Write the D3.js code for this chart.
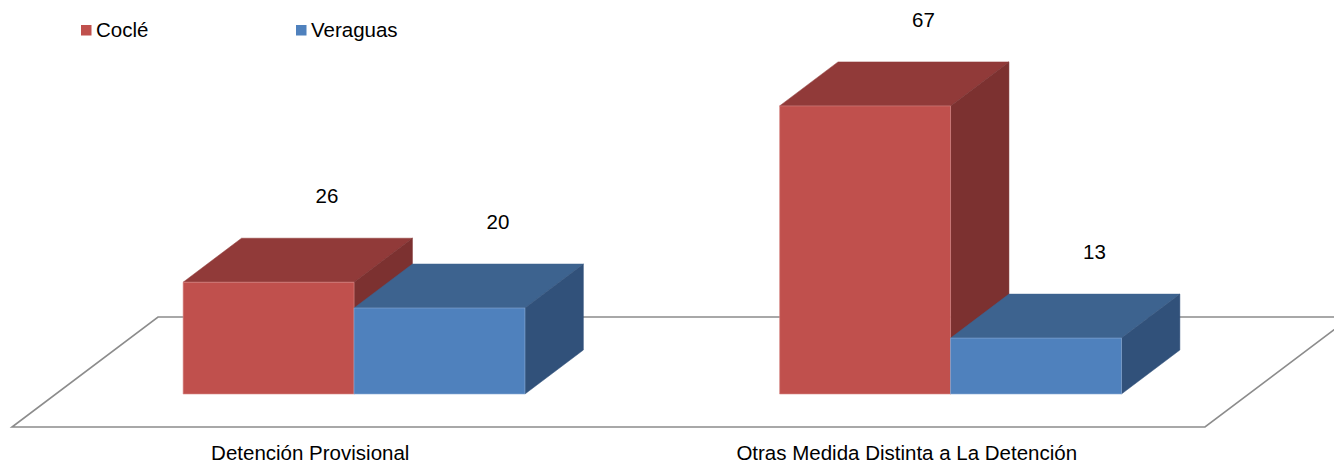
<!DOCTYPE html>
<html>
<head>
<meta charset="utf-8">
<script src="https://cdn.jsdelivr.net/npm/d3@7"></script>
<style>
  body { margin: 0; background: #fff; }
  svg { display: block; font-family: "Liberation Sans", Arial, sans-serif; }
</style>
</head>
<body>
<div id="chart"></div>
<script>
const categories = ["Detención Provisional", "Otras Medida Distinta a La Detención"];
const seriesNames = ["Coclé", "Veraguas"];
const cocleValues = [26, 67];
const veraguasValues = [20, 13];

const width = 1334, height = 463;

const colors = {
  "Coclé":    { front: "#c0504d", top: "#913a39", side: "#7c3130", edge: "#d98a88" },
  "Veraguas": { front: "#4f81bd", top: "#3d638f", side: "#31517a", edge: "#8bacd6" }
};

// floor geometry (front edge + depth vector)
const floorY = 427;
const depthVec = [146, -110];

const svg = d3.select("#chart")
  .append("svg")
    .attr("width", width)
    .attr("height", height)
    .attr("viewBox", `0 0 ${width} ${height}`);

const x0 = d3.scaleBand()
  .domain(categories)
  .range([12, 1205]);

const x1 = d3.scaleBand()
  .domain(seriesNames)
  .range([0, x0.bandwidth()])
  .paddingOuter(0.745);

const yScale = d3.scaleLinear()
  .domain([0, 70])
  .range([0, 301]);

// depth position of the bars on the floor (0 = front, 1 = back)
const depthScale = d3.scaleLinear().domain([0, 1]).range([0.3, 0.7]);

const project = (x, d, h) => [x + depthVec[0] * d, floorY + depthVec[1] * d - h];

// floor outline
const floorPts = [
  project(12, 0, 0), project(1205, 0, 0), project(1205, 1, 0), project(12, 1, 0)
];
svg.append("polygon")
  .attr("points", floorPts.map(p => p.join(",")).join(" "))
  .attr("fill", "none")
  .attr("stroke", "#8c8c8c")
  .attr("stroke-width", 1.6);

const data = [];
categories.forEach((c, i) => {
  data.push({ category: c, series: "Coclé", value: cocleValues[i] });
  data.push({ category: c, series: "Veraguas", value: veraguasValues[i] });
});

const dF = depthScale(0), dB = depthScale(1);
const poly = pts => pts.map(p => p.join(",")).join(" ");

const bars = svg.append("g")
  .selectAll("g.bar")
  .data(data)
  .join("g")
    .attr("class", "bar");

bars.each(function(d) {
  const g = d3.select(this);
  const xl = x0(d.category) + x1(d.series);
  const xr = xl + x1.bandwidth();
  const h = yScale(d.value);
  const c = colors[d.series];

  // top face
  g.append("polygon")
    .attr("points", poly([project(xl, dF, h), project(xr, dF, h), project(xr, dB, h), project(xl, dB, h)]))
    .attr("fill", c.top)
    .attr("stroke", c.top)
    .attr("stroke-width", 0.5);
  // side face
  g.append("polygon")
    .attr("points", poly([project(xr, dF, 0), project(xr, dF, h), project(xr, dB, h), project(xr, dB, 0)]))
    .attr("fill", c.side)
    .attr("stroke", c.side)
    .attr("stroke-width", 0.5);
  // front face
  g.append("polygon")
    .attr("points", poly([project(xl, dF, 0), project(xr, dF, 0), project(xr, dF, h), project(xl, dF, h)]))
    .attr("fill", c.front)
    .attr("stroke", c.edge)
    .attr("stroke-width", 0.6);
});

// value labels
bars.append("text")
  .text(d => d.value)
  .attr("x", d => project(x0(d.category) + x1(d.series) + x1.bandwidth() / 2, dB, 0)[0])
  .attr("y", d => project(0, dB, yScale(d.value))[1] - 35)
  .attr("text-anchor", "middle")
  .style("font-size", "20.5px")
  .style("fill", "#000");

// category labels
svg.append("g")
  .selectAll("text")
  .data(categories)
  .join("text")
    .text(d => d)
    .attr("x", d => x0(d) + x0.bandwidth() / 2)
    .attr("y", 460)
    .attr("text-anchor", "middle")
    .style("font-size", "20.5px")
    .style("fill", "#000");

// legend
const legendX = [81, 296];
const legend = svg.append("g")
  .selectAll("g")
  .data(seriesNames)
  .join("g")
    .attr("transform", (d, i) => `translate(${legendX[i]}, 25)`);
legend.append("rect")
  .attr("width", 10.5)
  .attr("height", 10.5)
  .attr("fill", d => colors[d].front);
legend.append("text")
  .text(d => d)
  .attr("x", 15)
  .attr("y", 11.5)
  .style("font-size", "20.5px")
  .style("fill", "#000");
</script>
</body>
</html>
